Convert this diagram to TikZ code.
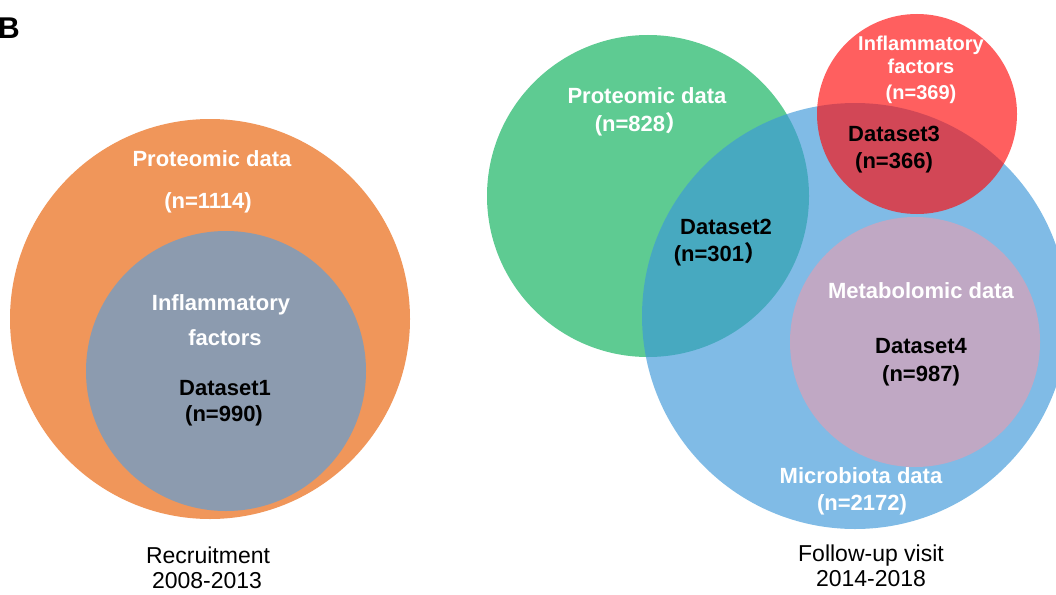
\documentclass[tikz,border=0pt]{standalone}
\usepackage{fontspec}
\setmainfont{Liberation Sans}
\newfontfamily\cjk{Noto Sans CJK SC}
\definecolor{orangeC}{RGB}{240,150,90}
\definecolor{grayC}{RGB}{140,155,175}
\definecolor{greenC}{RGB}{94,203,146}
\definecolor{blueC}{RGB}{60,152,217}
\definecolor{redC}{RGB}{255,10,10}
\definecolor{pinkC}{RGB}{192,168,196}
\tikzset{
  wlab/.style={text=white, font=\bfseries\fontsize{22}{26}\selectfont, inner sep=0pt, anchor=base},
  wsmall/.style={wlab, font=\bfseries\fontsize{20}{24}\selectfont},
  dlab/.style={text=black, font=\bfseries\fontsize{22}{26}\selectfont, inner sep=0pt, anchor=base},
  plab/.style={text=black, font=\fontsize{23}{27}\selectfont, inner sep=0pt, anchor=base}
}
\begin{document}
\begin{tikzpicture}[x=1pt,y=-1pt]
\useasboundingbox (0,0) rectangle (1056,594);
\fill[white] (0,0) rectangle (1056,594);
% panel label
\node[inner sep=0pt, anchor=base west, font=\bfseries\fontsize{30}{34}\selectfont] (B) at (-2,39) {B};
% left diagram
\fill[orangeC] (210,319) circle (200);
\fill[grayC] (226,371) circle (140);
\node[wlab] (lp1) at (212,166) {Proteomic data};
\node[wlab] (lp2) at (208,208) {(n=1114)};
\node[wlab] (li1) at (221,310) {Inflammatory};
\node[wlab] (li2) at (225,345) {factors};
\node[dlab] (ld1) at (225,395) {Dataset1};
\node[dlab] (ld2) at (224,421) {(n=990)};
\node[plab] (lr1) at (208,563) {Recruitment};
\node[plab] (lr2) at (207,588) {2008-2013};
% right diagram
\fill[greenC] (648,196) circle (161);
\fill[blueC, fill opacity=0.65] (855,316) circle (213);
\fill[redC, fill opacity=0.65] (917,114) circle (100);
\fill[pinkC] (915,342) circle (125);
\node[wlab] (rp1) at (647,103) {Proteomic data};
\node[wlab] (rp2) at (641,131) {(n=828\cjk{）}};
\node[wsmall] (ri1) at (921,50) {Inflammatory};
\node[wsmall] (ri2) at (921,74) {factors};
\node[wsmall] (ri3) at (921,99) {(n=369)};
\node[dlab] (rd3a) at (894,141) {Dataset3};
\node[dlab] (rd3b) at (894,168) {(n=366)};
\node[dlab] (rd2a) at (726,234) {Dataset2};
\node[dlab] (rd2b) at (720,261) {(n=301\cjk{）}};
\node[wlab] (rm) at (921,298) {Metabolomic data};
\node[dlab] (rd4a) at (921,353) {Dataset4};
\node[dlab] (rd4b) at (921,381) {(n=987)};
\node[wlab] (rmb1) at (861,483) {Microbiota data};
\node[wlab] (rmb2) at (862,510) {(n=2172)};
\node[plab] (rf1) at (871,561) {Follow-up visit};
\node[plab] (rf2) at (871,586) {2014-2018};
\end{tikzpicture}
\end{document}
